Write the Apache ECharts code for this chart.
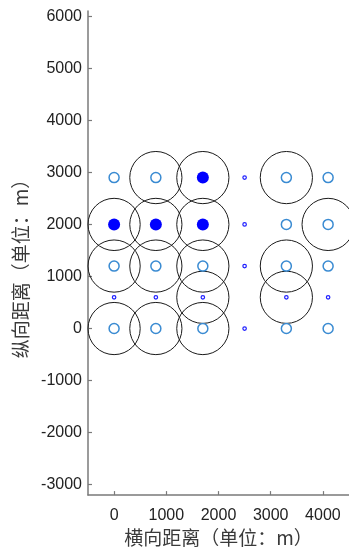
<!DOCTYPE html>
<html>
<head>
<meta charset="utf-8">
<script src="https://cdn.jsdelivr.net/npm/echarts@6/dist/echarts.min.js"></script>
<style>html,body{margin:0;padding:0;background:#fff;}#c{width:349px;height:552px;}</style>
</head>
<body>
<div id="c"></div>
<script>
// Data
var xTicks = [0, 1000, 2000, 3000, 4000];
var yTicks = [-3000, -2000, -1000, 0, 1000, 2000, 3000, 4000, 5000, 6000];
var hollowPts = [[0,2900],[800,2900],[3300,2900],[4100,2900],[3300,2000],[4100,2000],[0,1200],[800,1200],[1700,1200],[3300,1200],[4100,1200],[0,0],[800,0],[1700,0],[3300,0],[4100,0]];
var filledPts = [[1700,2900],[0,2000],[800,2000],[1700,2000]];
var smallPts = [[2500,2900],[2500,2000],[2500,1200],[0,600],[800,600],[1700,600],[3300,600],[4100,600],[2500,0]];
var ringCenters = [[800,2900],[1700,2900],[3300,2900],[0,2000],[800,2000],[1700,2000],[4100,2000],[0,1200],[800,1200],[1700,1200],[3300,1200],[1700,600],[3300,600],[0,0],[800,0],[1700,0]];
var ringRadius = 500;

var chart = echarts.init(document.getElementById('c'), null, {renderer: 'canvas'});
var plain = function (v) { return String(v); };
var axisCommon = {
  axisLine: {show: true, onZero: false, lineStyle: {color: '#7a7a7a', width: 1.5}},
  axisTick: {show: true, inside: true, length: 4, lineStyle: {color: '#7a7a7a', width: 1.2}},
  splitLine: {show: false},
  nameTextStyle: {fontFamily: 'Noto Sans CJK SC', fontSize: 19, color: '#3a3a3a'}
};
chart.setOption({
  animation: false,
  grid: {left: 88, right: 0, top: 11, bottom: 54, containLabel: false},
  xAxis: Object.assign({}, axisCommon, {
    type: 'value', min: -500, max: 4500,
    name: '横向距离（单位：m）', nameLocation: 'middle', nameGap: 32,
    axisTick: Object.assign({}, axisCommon.axisTick, {customValues: xTicks}),
    axisLabel: {customValues: xTicks, formatter: plain, margin: 12, fontFamily: 'Liberation Sans', fontSize: 16, color: '#222'}
  }),
  yAxis: Object.assign({}, axisCommon, {
    type: 'value', min: -3200, max: 6100,
    name: '纵向距离（单位：m）', nameLocation: 'middle', nameGap: 52,
    nameTextStyle: Object.assign({}, axisCommon.nameTextStyle, {padding: [0, 22, 0, 0]}),
    axisTick: Object.assign({}, axisCommon.axisTick, {customValues: yTicks}),
    axisLabel: {customValues: yTicks, formatter: plain, margin: 6, fontFamily: 'Liberation Sans', fontSize: 16, color: '#222'}
  }),
  series: [
    {
      type: 'custom', coordinateSystem: 'cartesian2d', data: ringCenters, silent: true, z: 2,
      renderItem: function (params, api) {
        var c = api.coord([api.value(0), api.value(1)]);
        var s = api.size([ringRadius, ringRadius]);
        return {type: 'circle', shape: {cx: c[0], cy: c[1], r: s[0]},
          style: {fill: 'none', stroke: '#1a1a1a', lineWidth: 1}};
      }
    },
    {type: 'scatter', data: hollowPts, symbol: 'circle', symbolSize: 10, z: 3,
     itemStyle: {color: '#fff', borderColor: '#3a8bd2', borderWidth: 1.5, opacity: 1}},
    {type: 'scatter', data: filledPts, symbol: 'circle', symbolSize: 12, z: 3,
     itemStyle: {color: '#0000ff', opacity: 1}},
    {type: 'scatter', data: smallPts, symbol: 'circle', symbolSize: 3.5, z: 3,
     itemStyle: {color: '#fff', borderColor: '#2020ff', borderWidth: 1.2, opacity: 1}}
  ]
});
</script>
</body>
</html>
